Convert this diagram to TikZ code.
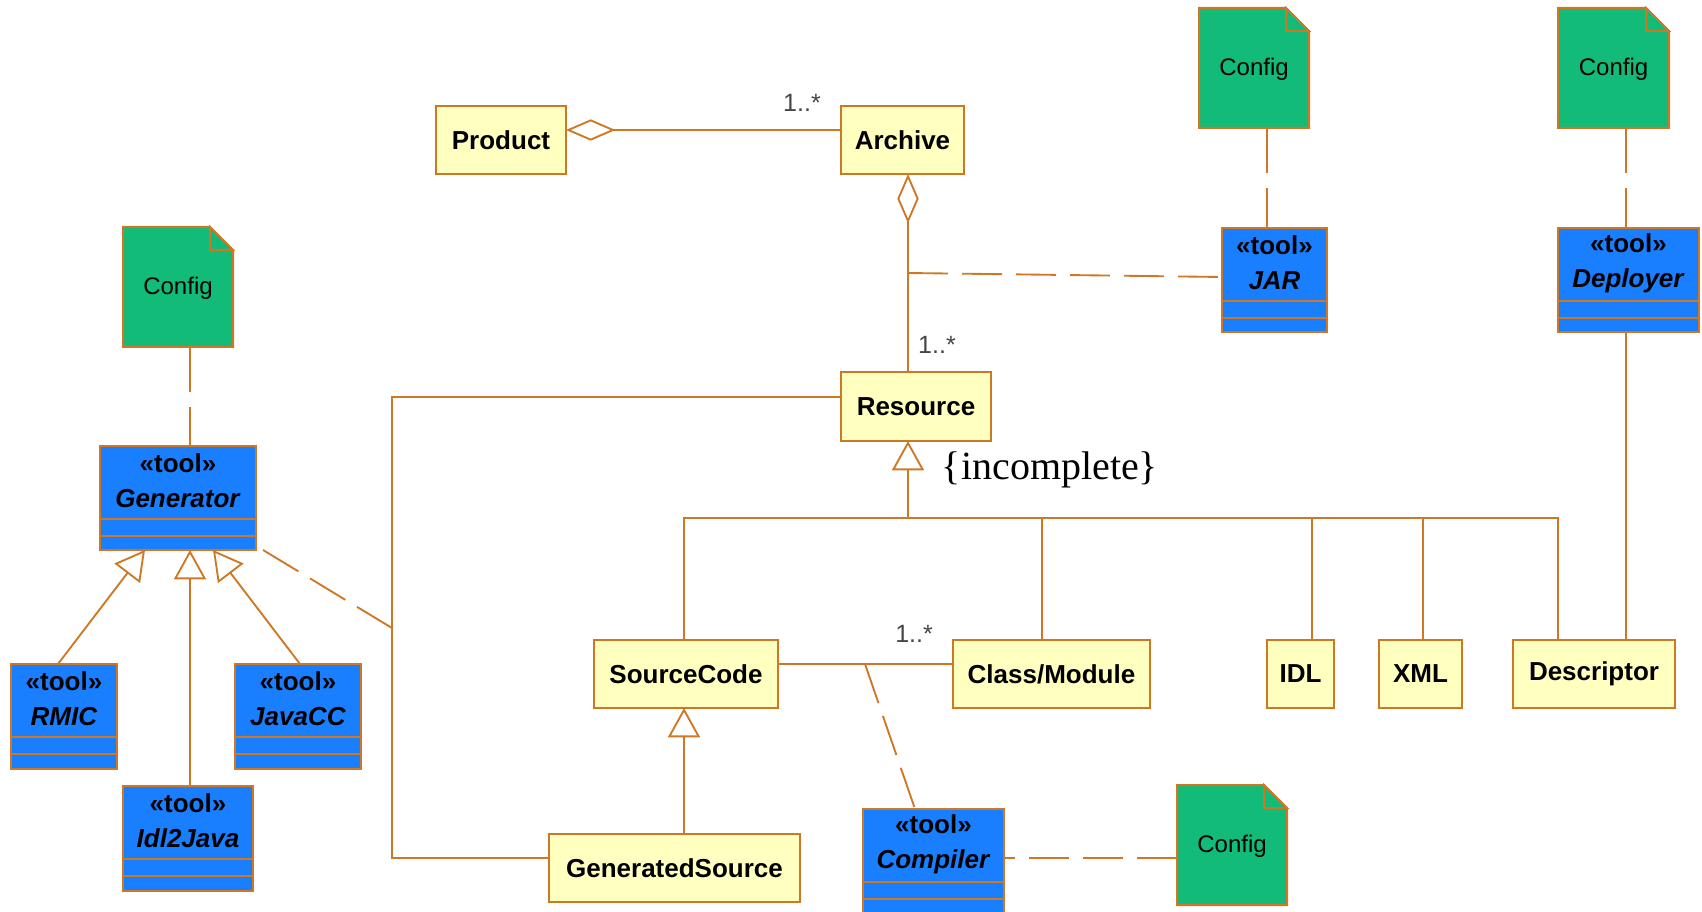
\documentclass[tikz,border=0pt]{standalone}
\usepackage{fontspec}
\setmainfont{Liberation Sans}
\newfontfamily\seriffont{Liberation Serif}
\usetikzlibrary{arrows.meta,calc}
\definecolor{edge}{RGB}{206,120,38}
\definecolor{clsfill}{RGB}{255,255,192}
\definecolor{toolfill}{RGB}{26,127,255}
\definecolor{notefill}{RGB}{18,187,120}
\definecolor{multc}{RGB}{70,70,70}
\tikzset{
  box/.style={draw=edge, line width=1.5pt, inner sep=0pt, outer sep=0pt},
  cls/.style={box, fill=clsfill, font=\bfseries\fontsize{19.5}{23}\selectfont},
  toolbox/.style={box, fill=toolfill},
  tooltext/.style={align=center, inner sep=0pt, font=\bfseries\fontsize{19.5}{26.25}\selectfont},
  notebox/.style={inner sep=0pt, outer sep=0pt, font=\fontsize{18}{22}\selectfont},
  notepath/.style={draw=edge, fill=notefill, line width=1.5pt},
  conn/.style={draw=edge, line width=1.4pt},
  dep/.style={conn, dash pattern=on 30pt off 10.5pt},
  depfit/.style={conn, dash pattern=on 31pt off 10.2pt},
  cfgdep/.style={conn, dash pattern=on 33.75pt off 11.25pt},
  gen/.style={conn, -{Triangle[length=22pt,width=24pt,fill=white]}},
  agg/.style={conn, {Diamond[length=37pt,width=16pt,fill=white]}-},
  mult/.style={text=multc, inner sep=0pt, font=\fontsize{18.75}{22}\selectfont},
}
% #1 style, #2 name, #3-#6 corners in px, #7 text
\newcommand\pxbox[7]{%
  \node[#1, minimum width={(#5-#3)*0.75pt}, minimum height={(#6-#4)*0.75pt}]
     (#2) at ({(#3+#5)/2},{(#4+#6)/2}) {#7};
}
\newcommand\umltool[6]{%
  \pxbox{toolbox}{#1}{#2}{#3}{#4}{#5}{}
  \draw[box] ($(#1.north west)+(0,73)$) -- ($(#1.north east)+(0,73)$);
  \draw[box] ($(#1.north west)+(0,90)$) -- ($(#1.north east)+(0,90)$);
  \node[tooltext] (#1-t) at ($(#1.north)+(0,35)$) {«tool»\\\textit{#6}};
}
\newcommand\umlnote[5]{%
  \pxbox{notebox}{#1}{#2}{#3}{#4}{#5}{}
  \path[notepath] (#1.south west) -- (#1.north west) -- ($(#1.north east)+(-23,0)$)
     -- ($(#1.north east)+(0,23)$) -- (#1.south east) -- cycle;
  \draw[notepath] ($(#1.north east)+(-23,0)$) |- ($(#1.north east)+(0,23)$) -- cycle;
  \node[notebox] (#1-t) at ($(#1.north)+(0,61)$) {Config};
}
\begin{document}
\begin{tikzpicture}[x=0.75pt,y=-0.75pt]
\useasboundingbox (0,0) rectangle (1702,912);
\clip (0,0) rectangle (1702,912);
\fill[white] (0,0) rectangle (1702,912);

% classes
\pxbox{cls}{product}{436}{106}{566}{174}{Product}
\pxbox{cls}{archive}{841}{106}{964}{174}{Archive}
\pxbox{cls}{resource}{841}{372}{991}{441}{Resource}
\pxbox{cls}{src}{594}{640}{778}{708}{SourceCode}
\pxbox{cls}{clsmod}{953}{640}{1150}{708}{Class/Module}
\pxbox{cls}{idl}{1267}{640}{1334}{708}{IDL}
\pxbox{cls}{xml}{1379}{640}{1462}{708}{XML}
\pxbox{cls}{desc}{1513}{640}{1675}{708}{Descriptor}
\pxbox{cls}{gensrc}{549}{834}{800}{902}{GeneratedSource}

% tools
\umltool{jar}{1222}{228}{1327}{332}{JAR}
\umltool{deployer}{1558}{228}{1699}{332}{Deployer}
\umltool{generator}{100}{446}{256}{550}{Generator}
\umltool{rmic}{11}{664}{117}{769}{RMIC}
\umltool{javacc}{235}{664}{361}{769}{JavaCC}
\umltool{idltojava}{123}{786}{253}{891}{Idl2Java}
\umltool{compiler}{863}{809}{1004}{913}{Compiler}

% notes
\umlnote{cfgjar}{1199}{8}{1309}{128}
\umlnote{cfgdpl}{1558}{8}{1669}{128}
\umlnote{cfggen}{123}{227}{233}{347}
\umlnote{cfgcomp}{1177}{785}{1287}{905}

% product / archive / resource
\draw[agg] ($(product.east)+(0,-10)$) -- ($(archive.west)+(0,-10)$);
\node[mult] (m1) at (802,103) {1..*};
\draw[agg] ($(archive.south)+(5.5,0)$) -- ($(resource.north)+(-8,0)$);
\node[mult] (m2) at (937,345) {1..*};
\coordinate (acjar) at (908,273);
\draw[dep] (acjar) -- ($(jar.west)+(0,-3)$);

% config links
\draw[cfgdep] ($(cfgjar.south)+(13,0)$) -- ($(jar.north)+(-7.5,0)$);
\draw[cfgdep] ($(cfgdpl.south)+(12.5,0)$) -- ($(deployer.north)+(-2.5,0)$);
\draw[cfgdep] ($(cfggen.south)+(12,0)$) -- ($(generator.north)+(12,0)$);
\draw[conn] ($(deployer.south)+(-2.5,0)$) -- ($(desc.north)+(32,0)$);

% generator hierarchy
\draw[gen] ($(idltojava.north)+(2,0)$) -- ($(generator.south)+(12,0)$);
\draw[gen] ($(rmic.north)+(-6,0)$) -- ($(generator.south)+(-33,0)$);
\draw[gen] ($(javacc.north)+(2,0)$) -- ($(generator.south)+(35,0)$);

% resource - generated source
\coordinate (lcorner) at (392,858);
\draw[conn] ($(resource.west)+(0,-9.5)$) -| (lcorner) -- (lcorner -| gensrc.west);
\coordinate (gdep) at (392,628);
\draw[depfit] ($(generator.south east)+(7,0)$) -- (gdep);

% resource generalization
\coordinate (bus) at (908,518);
\coordinate (busR) at (1558,518);
\draw[gen] (bus) -- ($(resource.south)+(-8,0)$);
\draw[conn] ($(src.north)+(-2,0)$) |- (busR) -- (busR |- desc.north);
\draw[conn] ($(clsmod.north)+(-9.5,0)$) coordinate (c1) -- (c1 |- bus);
\draw[conn] ($(idl.north)+(11.5,0)$) coordinate (c2) -- (c2 |- bus);
\draw[conn] ($(xml.north)+(2.5,0)$) coordinate (c3) -- (c3 |- bus);
\node[font=\seriffont\fontsize{30}{34}\selectfont, inner sep=0pt] (incomplete) at (1050,470) {\{incomplete\}};

% source code
\draw[conn] ($(src.east)+(0,-10)$) -- ($(clsmod.west)+(0,-10)$);
\node[mult] (m3) at (914,634) {1..*};
\coordinate (accomp) at (865,664);
\draw[depfit] (accomp) -- ($(compiler.north)+(-18.5,0)$);
\draw[gen] ($(gensrc.north)+(9.5,0)$) -- ($(src.south)+(-2,0)$);
\coordinate (c4) at ($(compiler.north east)+(0,49)$);
\draw[dep] (c4 -| cfgcomp.west) -- (c4);
\end{tikzpicture}
\end{document}
